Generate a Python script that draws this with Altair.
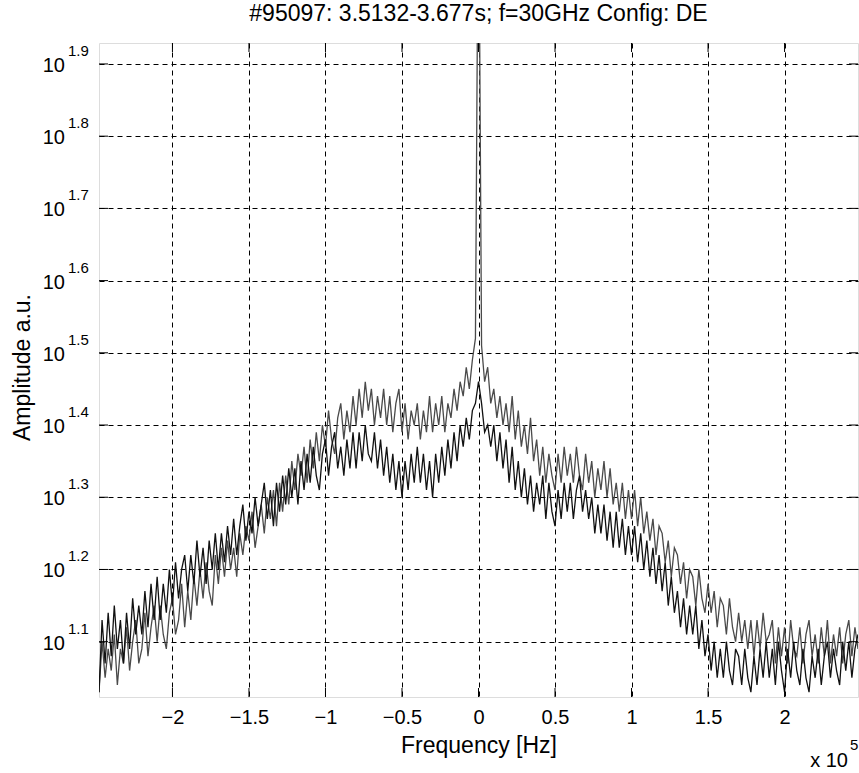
import altair as alt
import pandas as pd

# ---- data (log10 of amplitude, sampled every 2 kHz from -248 kHz) ----
F_START = -248000
F_STEP = 2000

LOG_GRAY = [
    1.03, 1.10, 1.05, 1.09,
    1.06, 1.11, 1.04, 1.09, 1.07,
    1.12, 1.06, 1.10, 1.13, 1.07,
    1.09, 1.14, 1.08, 1.12, 1.15,
    1.10, 1.15, 1.11, 1.09, 1.14,
    1.16, 1.11, 1.13, 1.18, 1.12,
    1.17, 1.13, 1.19, 1.15, 1.20,
    1.16, 1.21, 1.17, 1.15, 1.22,
    1.18, 1.23, 1.19, 1.24, 1.20,
    1.23, 1.19, 1.25, 1.22, 1.26,
    1.24, 1.28, 1.23, 1.26, 1.29,
    1.25, 1.30, 1.27, 1.31, 1.26,
    1.32, 1.28, 1.33, 1.29, 1.35,
    1.31, 1.36, 1.33, 1.37, 1.32,
    1.38, 1.34, 1.39, 1.35, 1.40,
    1.37, 1.42, 1.38, 1.36, 1.41,
    1.43, 1.38, 1.42, 1.39, 1.44,
    1.40, 1.45, 1.41, 1.46, 1.42,
    1.45, 1.40, 1.44, 1.41, 1.45,
    1.40, 1.44, 1.39, 1.43, 1.45,
    1.39, 1.43, 1.38, 1.42, 1.40,
    1.43, 1.38, 1.42, 1.39, 1.44,
    1.39, 1.43, 1.40, 1.44, 1.39,
    1.43, 1.41, 1.45, 1.42, 1.46,
    1.44, 1.48, 1.45, 1.49, 1.52,
    2.20, 1.51, 1.46, 1.48, 1.43,
    1.45, 1.41, 1.44, 1.40, 1.43,
    1.39, 1.44, 1.38, 1.42, 1.37,
    1.40, 1.36, 1.41, 1.35, 1.38,
    1.33, 1.37, 1.32, 1.36, 1.33,
    1.31, 1.36, 1.32, 1.37, 1.33,
    1.36, 1.32, 1.37, 1.33, 1.31,
    1.36, 1.32, 1.35, 1.30, 1.34,
    1.31, 1.35, 1.30, 1.34, 1.29,
    1.32, 1.28, 1.32, 1.27, 1.31,
    1.27, 1.31, 1.26, 1.30, 1.25,
    1.28, 1.24, 1.27, 1.22, 1.26,
    1.25, 1.21, 1.24, 1.19, 1.23,
    1.22, 1.18, 1.21, 1.16, 1.20,
    1.19, 1.15, 1.20, 1.16, 1.14,
    1.18, 1.14, 1.17, 1.12, 1.16,
    1.15, 1.11, 1.16, 1.12, 1.10,
    1.14, 1.10, 1.13, 1.09, 1.13,
    1.08, 1.13, 1.09, 1.14, 1.10,
    1.11, 1.13, 1.07, 1.12, 1.08,
    1.12, 1.07, 1.13, 1.09, 1.08,
    1.12, 1.07, 1.11, 1.13, 1.08,
    1.11, 1.07, 1.12, 1.08, 1.13,
    1.07, 1.11, 1.08, 1.12, 1.07,
    1.11, 1.13, 1.08, 1.12, 1.09,
]

LOG_BLACK = [
    1.03, 1.13, 1.07, 1.14,
    1.08, 1.15, 1.09, 1.13, 1.07,
    1.14, 1.09, 1.16, 1.11, 1.15,
    1.11, 1.17, 1.12, 1.18, 1.13,
    1.19, 1.13, 1.18, 1.14, 1.20,
    1.15, 1.21, 1.16, 1.20, 1.22,
    1.17, 1.22, 1.18, 1.24, 1.19,
    1.23, 1.18, 1.24, 1.20, 1.25,
    1.20, 1.25, 1.21, 1.26, 1.22,
    1.27, 1.22, 1.26, 1.29, 1.24,
    1.28, 1.25, 1.30, 1.26, 1.29,
    1.32, 1.27, 1.31, 1.26, 1.32,
    1.28, 1.33, 1.29, 1.34, 1.30,
    1.34, 1.29, 1.35, 1.31, 1.36,
    1.32, 1.37, 1.33, 1.31, 1.36,
    1.38, 1.33, 1.37, 1.39, 1.34,
    1.37, 1.33, 1.38, 1.34, 1.39,
    1.34, 1.39, 1.35, 1.40, 1.36,
    1.35, 1.39, 1.34, 1.38, 1.33,
    1.37, 1.32, 1.36, 1.31, 1.35,
    1.30, 1.35, 1.31, 1.36, 1.32,
    1.37, 1.32, 1.36, 1.31, 1.35,
    1.30, 1.36, 1.32, 1.37, 1.33,
    1.38, 1.34, 1.39, 1.35, 1.40,
    1.37, 1.41, 1.38, 1.42, 1.43,
    1.46, 1.43, 1.39, 1.40, 1.37,
    1.40, 1.35, 1.39, 1.34, 1.38,
    1.32, 1.37, 1.31, 1.35, 1.30,
    1.34, 1.29, 1.33, 1.28, 1.32,
    1.29, 1.33, 1.27, 1.32, 1.28,
    1.26, 1.31, 1.27, 1.32, 1.28,
    1.32, 1.27, 1.31, 1.33, 1.28,
    1.31, 1.27, 1.30, 1.25, 1.29,
    1.25, 1.29, 1.24, 1.28, 1.23,
    1.28, 1.23, 1.27, 1.22, 1.26,
    1.22, 1.26, 1.21, 1.25, 1.20,
    1.24, 1.19, 1.23, 1.18, 1.22,
    1.17, 1.21, 1.15, 1.19, 1.14,
    1.17, 1.12, 1.16, 1.11, 1.15,
    1.11, 1.15, 1.09, 1.13, 1.08,
    1.11, 1.06, 1.10, 1.05, 1.09,
    1.05, 1.10, 1.06, 1.04, 1.09,
    1.08, 1.04, 1.09, 1.05, 1.03,
    1.08, 1.04, 1.09, 1.05, 1.10,
    1.05, 1.09, 1.04, 1.10, 1.06,
    1.03, 1.09, 1.05, 1.10, 1.06,
    1.04, 1.09, 1.05, 1.03, 1.08,
    1.05, 1.09, 1.04, 1.08, 1.10,
    1.05, 1.09, 1.06, 1.04, 1.10,
    1.06, 1.10, 1.05, 1.09, 1.11,
]

X_TICKS = [-200000, -150000, -100000, -50000, 0, 50000, 100000, 150000, 200000]
Y_TICK_EXP = ["1.1", "1.2", "1.3", "1.4", "1.5", "1.6", "1.7", "1.8", "1.9"]
Y_DOMAIN_EXP = [1.0234, 1.929]
X_DOMAIN = [-248000, 248000]

TITLE = "#95097: 3.5132-3.677s; f=30GHz Config: DE"
FONT = "Liberation Sans"

# ---- build tables ----
gray_df = pd.DataFrame({
    "freq": [F_START + F_STEP * i for i in range(len(LOG_GRAY))],
    "amp": [10 ** v for v in LOG_GRAY],
})
black_df = pd.DataFrame({
    "freq": [F_START + F_STEP * i for i in range(len(LOG_BLACK))],
    "amp": [10 ** v for v in LOG_BLACK],
})
xt_df = pd.DataFrame({"freq": X_TICKS})
yt_df = pd.DataFrame({"amp": [10 ** float(e) for e in Y_TICK_EXP], "e": Y_TICK_EXP})

W, H = 759, 654

xscale = alt.Scale(domain=X_DOMAIN, nice=False, zero=False)
yscale = alt.Scale(type="log", domain=[10 ** Y_DOMAIN_EXP[0], 10 ** Y_DOMAIN_EXP[1]], nice=False)

X_ENC = alt.X(
    "freq:Q", scale=xscale,
    axis=alt.Axis(
        values=X_TICKS, labelExpr="format(datum.value / 100000, '')",
        grid=True, gridDash=[5, 4], gridColor="#000000", gridWidth=1,
        domain=False, ticks=False, labelPadding=10, labelFontSize=20,
        labelFont=FONT, labelColor="#000000",
        title="Frequency [Hz]", titleFont=FONT, titleFontSize=23,
        titleFontWeight="normal", titleColor="#000000",
        titleY=48, titleBaseline="middle",
    ),
)
Y_ENC = alt.Y(
    "amp:Q", scale=yscale,
    axis=alt.Axis(
        values=[10 ** float(e) for e in Y_TICK_EXP], labels=False,
        grid=True, gridDash=[5, 4], gridColor="#000000", gridWidth=1,
        domain=False, ticks=False,
        title="Amplitude a.u.", titleFont=FONT, titleFontSize=23,
        titleFontWeight="normal", titleColor="#000000",
        titleX=-77, titleY=H / 2 - 3, titleAngle=-90, titleBaseline="middle",
        titleAlign="center",
    ),
)

gray_line = alt.Chart(gray_df).mark_line(color="#4a4a4a", strokeWidth=1.3, clip=True).encode(x=X_ENC, y=Y_ENC)
black_line = alt.Chart(black_df).mark_line(color="#111111", strokeWidth=1.3, clip=True).encode(x=X_ENC, y=Y_ENC)

tick_b = alt.Chart(xt_df).mark_rule(color="#000000").encode(x=X_ENC, y=alt.value(H - 9), y2=alt.value(H))
tick_t = alt.Chart(xt_df).mark_rule(color="#000000").encode(x=X_ENC, y=alt.value(0), y2=alt.value(9))
tick_l = alt.Chart(yt_df).mark_rule(color="#000000").encode(y=Y_ENC, x=alt.value(0), x2=alt.value(9))
tick_r = alt.Chart(yt_df).mark_rule(color="#000000").encode(y=Y_ENC, x=alt.value(W - 9), x2=alt.value(W))

ylab_base = alt.Chart(yt_df).mark_text(
    align="right", baseline="middle", fontSize=20, font=FONT, color="#000000", dy=2
).encode(y=Y_ENC, x=alt.value(-34), text=alt.value("10"))
ylab_exp = alt.Chart(yt_df).mark_text(
    align="left", baseline="middle", fontSize=15, font=FONT, color="#000000", dy=-13
).encode(y=Y_ENC, x=alt.value(-31), text="e:N")

mult_df = pd.DataFrame({"t": ["x 10"], "p": ["5"], "title": [TITLE]})
mult_base = alt.Chart(mult_df).mark_text(
    align="right", baseline="middle", fontSize=20, font=FONT, color="#000000"
).encode(x=alt.value(749), y=alt.value(718), text="t:N")
mult_exp = alt.Chart(mult_df).mark_text(
    align="left", baseline="middle", fontSize=15, font=FONT, color="#000000"
).encode(x=alt.value(751), y=alt.value(702), text="p:N")
title_txt = alt.Chart(mult_df).mark_text(
    align="center", baseline="middle", fontSize=23, font=FONT, color="#000000"
).encode(x=alt.value(W / 2), y=alt.value(-29), text="title:N")

chart = alt.layer(
    gray_line, black_line, tick_b, tick_t, tick_l, tick_r,
    ylab_base, ylab_exp, mult_base, mult_exp, title_txt,
).properties(
    width=W, height=H,
    autosize=alt.AutoSizeParams(type="none"),
    padding={"left": 99, "top": 43, "right": 1, "bottom": 76},
).configure_view(
    stroke="#000000", strokeWidth=1
).configure(background="white")

chart.save("out.html", embed_options={"renderer": "svg", "actions": False})
